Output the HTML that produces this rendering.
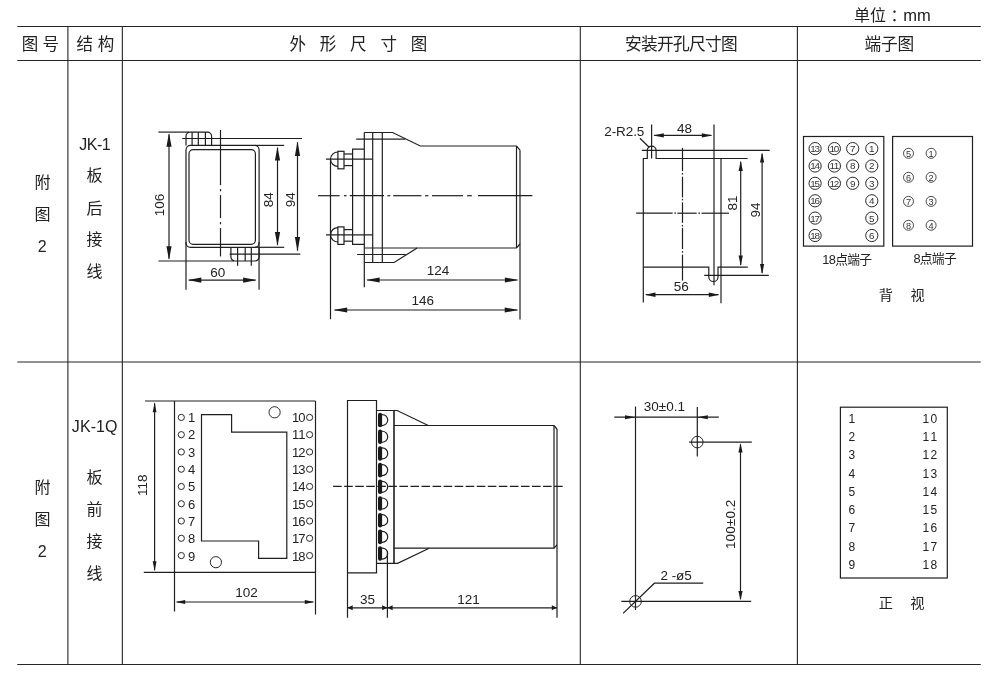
<!DOCTYPE html>
<html lang="zh-CN">
<head>
<meta charset="utf-8">
<title>JK-1 / JK-1Q 外形尺寸图</title>
<style>
html,body{margin:0;padding:0;background:#fff;}
body{width:995px;height:674px;overflow:hidden;}
svg{display:block;font-family:"Liberation Sans", "Noto Sans CJK SC", sans-serif;filter:grayscale(1);}
line,path,circle,rect,polyline{stroke:#1f1f1f;stroke-width:1.2;fill:none;}
.tb{stroke:#262626;stroke-width:1.1;}
.ah{fill:#1a1a1a;stroke:none;}
.fill{fill:#1a1a1a;stroke:none;}
text{fill:#222;stroke:none;}
.lt{fill:#333;}
.thin{stroke-width:.8;}
.sm{stroke-width:.95;}
</style>
</head>
<body>
<svg width="995" height="674" viewBox="0 0 995 674">
<rect x="0" y="0" width="995" height="674" style="fill:#fff;stroke:none"/>
<g id="grid">
<line x1="17.3" y1="26.5" x2="980.8" y2="26.5" class="tb"/>
<line x1="17.3" y1="60.5" x2="980.8" y2="60.5" class="tb"/>
<line x1="17.3" y1="362.05" x2="980.8" y2="362.05" class="tb"/>
<line x1="17.3" y1="664.5" x2="980.8" y2="664.5" class="tb"/>
<line x1="67.9" y1="26.5" x2="67.9" y2="664.5" class="tb"/>
<line x1="122.35" y1="26.5" x2="122.35" y2="664.5" class="tb"/>
<line x1="580.3" y1="26.5" x2="580.3" y2="664.5" class="tb"/>
<line x1="797.4" y1="26.5" x2="797.4" y2="664.5" class="tb"/>
</g>
<g id="header">
<text x="854" y="20.6" font-size="16">单位<tspan x="890.6">：</tspan><tspan x="903.2" font-size="16.5">mm</tspan></text>
<text x="21.7" y="50.2" font-size="16.5">图</text>
<text x="42.5" y="50.2" font-size="16.5">号</text>
<text x="76.6" y="50.2" font-size="16.5">结</text>
<text x="97.7" y="50.2" font-size="16.5">构</text>
<text x="289.5" y="50.2" font-size="16.5">外</text>
<text x="319.8" y="50.2" font-size="16.5">形</text>
<text x="350.1" y="50.2" font-size="16.5">尺</text>
<text x="380.4" y="50.2" font-size="16.5">寸</text>
<text x="410.7" y="50.2" font-size="16.5">图</text>
<text x="625.1" y="50.3" font-size="16.7" textLength="112.6" lengthAdjust="spacing">安装开孔尺寸图</text>
<text x="864.5" y="50.3" font-size="16.7" textLength="49.8" lengthAdjust="spacing">端子图</text>
</g>
<g id="labels">
<text x="42.4" y="187.6" font-size="16" text-anchor="middle">附</text>
<text x="42.4" y="220.1" font-size="16" text-anchor="middle">图</text>
<text x="42.2" y="251.6" font-size="16" text-anchor="middle">2</text>
<text x="95" y="150.1" font-size="16" text-anchor="middle" textLength="31.5" lengthAdjust="spacing">JK-1</text>
<text x="94.6" y="181.3" font-size="16" text-anchor="middle">板</text>
<text x="94.6" y="213.5" font-size="16" text-anchor="middle">后</text>
<text x="94.6" y="245.3" font-size="16" text-anchor="middle">接</text>
<text x="94.6" y="277" font-size="16" text-anchor="middle">线</text>
<text x="42.4" y="492.5" font-size="16" text-anchor="middle">附</text>
<text x="42.4" y="524.9" font-size="16" text-anchor="middle">图</text>
<text x="42.2" y="556.5" font-size="16" text-anchor="middle">2</text>
<text x="94.7" y="432.4" font-size="16" text-anchor="middle" textLength="45.7" lengthAdjust="spacing">JK-1Q</text>
<text x="94.6" y="483" font-size="16" text-anchor="middle">板</text>
<text x="94.6" y="514.8" font-size="16" text-anchor="middle">前</text>
<text x="94.6" y="547.2" font-size="16" text-anchor="middle">接</text>
<text x="94.6" y="579.2" font-size="16" text-anchor="middle">线</text>
</g>
<g id="r1-front">
<path d="M186 145.4V136.2A4.1 4.1 0 0 1 190.1 132.1H207.5A4.1 4.1 0 0 1 211.6 136.2V145.4"/>
<line x1="192.1" y1="132.1" x2="192.1" y2="145.4"/>
<line x1="198.3" y1="132.1" x2="198.3" y2="145.4"/>
<line x1="205.4" y1="132.1" x2="205.4" y2="145.4"/>
<path d="M230.9 247.3V256.9A4.1 4.1 0 0 0 235 261H255A4.1 4.1 0 0 0 259.1 256.9V247.3"/>
<line x1="237.6" y1="247.3" x2="237.6" y2="265.8"/>
<line x1="245.2" y1="247.3" x2="245.2" y2="261"/>
<line x1="251.3" y1="247.3" x2="251.3" y2="265.8"/>
<rect x="186" y="145.4" width="73.1" height="101.9" rx="4.5" ry="4.5"/>
<rect x="189" y="149.6" width="66.4" height="94.8" rx="4.2" ry="4.2"/>
<line x1="220.5" y1="130" x2="220.5" y2="185.1"/>
<line x1="220.5" y1="189.1" x2="220.5" y2="191.3"/>
<line x1="220.5" y1="195.1" x2="220.5" y2="218.1"/>
<line x1="220.5" y1="222.1" x2="220.5" y2="224.3"/>
<line x1="220.5" y1="228.1" x2="220.5" y2="256.4"/>
<line x1="158.4" y1="132.1" x2="189" y2="132.1"/>
<line x1="158.4" y1="261" x2="234" y2="261"/>
<line x1="182.2" y1="138.5" x2="302" y2="138.5"/>
<line x1="229.6" y1="254.1" x2="300.3" y2="254.1"/>
<line x1="255" y1="145.4" x2="284.2" y2="145.4"/>
<line x1="255" y1="247.3" x2="284.2" y2="247.3"/>
<line x1="186" y1="242" x2="186" y2="289.8"/>
<line x1="259.05" y1="242" x2="259.05" y2="289.8"/>
<line x1="169" y1="134.2" x2="169" y2="258.8"/>
<polygon class="ah" points="169,133.2 166.4,146.7 171.6,146.7"/>
<polygon class="ah" points="169,259.8 166.4,246.3 171.6,246.3"/>
<line x1="277.5" y1="147.7" x2="277.5" y2="244.9"/>
<polygon class="ah" points="277.5,146.7 274.9,160.5 280.1,160.5"/>
<polygon class="ah" points="277.5,245.9 274.9,232.1 280.1,232.1"/>
<line x1="297.5" y1="142.3" x2="297.5" y2="250.7"/>
<polygon class="ah" points="297.5,141.3 294.9,156.1 300.1,156.1"/>
<polygon class="ah" points="297.5,251.7 294.9,236.9 300.1,236.9"/>
<line x1="188.8" y1="280.1" x2="255.6" y2="280.1"/>
<polygon class="ah" points="187.8,280.1 201.3,277.4 201.3,282.8"/>
<polygon class="ah" points="256.6,280.1 243.1,277.4 243.1,282.8"/>
<text x="163.5" y="205" font-size="13.5" text-anchor="middle" transform="rotate(-90 163.5 205)">106</text>
<text x="272.7" y="199.7" font-size="13.5" text-anchor="middle" transform="rotate(-90 272.7 199.7)">84</text>
<text x="294.9" y="199.7" font-size="13.5" text-anchor="middle" transform="rotate(-90 294.9 199.7)">94</text>
<text x="217.8" y="277" font-size="13.5" text-anchor="middle">60</text>
</g>
<g id="r1-side">
<path d="M364.2 132.5H392.6L420.3 146H516.5L520 150.2"/>
<path d="M364.5 248H516.5L520 244"/>
<path d="M417.1 248L394.1 262.5H364.4"/>
<line x1="516.5" y1="146" x2="516.5" y2="248"/>
<line x1="520" y1="150.2" x2="520" y2="319.5"/>
<line x1="364.3" y1="132.5" x2="364.3" y2="287.2"/>
<line x1="372.7" y1="132.5" x2="372.7" y2="262.5"/>
<line x1="382.3" y1="132.5" x2="382.3" y2="262.5"/>
<line x1="356.2" y1="139.1" x2="405.3" y2="139.1"/>
<line x1="357.1" y1="254.5" x2="405.8" y2="254.5"/>
<path d="M364.3 149.1H352.6V244.4H364.3"/>
<path d="M337.9 152 A7.4 7.2 0 0 0 337.9 166.4"/>
<rect x="337.9" y="151.3" width="6.1" height="17.5"/>
<line x1="344" y1="154" x2="352.6" y2="154"/>
<line x1="344" y1="165.6" x2="352.6" y2="165.6"/>
<line x1="326" y1="159.2" x2="372.7" y2="159.2"/>
<path d="M337.9 227.6 A7.4 7.2 0 0 0 337.9 242"/>
<rect x="337.9" y="226.9" width="6.1" height="17.5"/>
<line x1="344" y1="229.6" x2="352.6" y2="229.6"/>
<line x1="344" y1="241.2" x2="352.6" y2="241.2"/>
<line x1="326" y1="234.8" x2="372.7" y2="234.8"/>
<line x1="330.5" y1="159.2" x2="330.5" y2="319.2"/>
<line x1="318.1" y1="195.7" x2="339.6" y2="195.7"/>
<line x1="344" y1="195.7" x2="346.5" y2="195.7"/>
<line x1="349.8" y1="195.7" x2="384" y2="195.7"/>
<line x1="387.4" y1="195.7" x2="390.2" y2="195.7"/>
<line x1="393.2" y1="195.7" x2="421.4" y2="195.7"/>
<line x1="425.1" y1="195.7" x2="428.4" y2="195.7"/>
<line x1="432" y1="195.7" x2="463" y2="195.7"/>
<line x1="467.2" y1="195.7" x2="471.8" y2="195.7"/>
<line x1="478" y1="195.7" x2="532.4" y2="195.7"/>
<line x1="367.1" y1="280" x2="517.4" y2="280"/>
<polygon class="ah" points="366.1,280 379.6,277.4 379.6,282.6"/>
<polygon class="ah" points="518.4,280 504.9,277.4 504.9,282.6"/>
<line x1="334.5" y1="310" x2="517.4" y2="310"/>
<polygon class="ah" points="333.5,310 347.2,307.4 347.2,312.6"/>
<polygon class="ah" points="518.4,310 504.7,307.4 504.7,312.6"/>
<text x="438" y="274.9" font-size="13.5" text-anchor="middle">124</text>
<text x="422.8" y="304.8" font-size="13.5" text-anchor="middle">146</text>
</g>
<g id="r1-cut">
<path d="M643.3 302.4V158.5H647.3V150.5A4.4 4.4 0 0 1 656.1 150.5V158.5H747.6"/>
<path d="M643.3 267.1H708.8V276.9A4.6 4.6 0 0 0 718 276.9V267.1H747.8"/>
<line x1="721" y1="158.5" x2="721" y2="303.3"/>
<line x1="651.6" y1="124.5" x2="651.6" y2="158.5"/>
<line x1="714" y1="124.5" x2="714" y2="285.2"/>
<line x1="641.8" y1="150.3" x2="769.7" y2="150.3"/>
<line x1="704.2" y1="275.3" x2="768.8" y2="275.3"/>
<line x1="636.2" y1="213.2" x2="672.7" y2="213.2"/>
<line x1="674.4" y1="213.2" x2="676" y2="213.2"/>
<line x1="677.4" y1="213.2" x2="696.7" y2="213.2"/>
<line x1="698.4" y1="213.2" x2="700" y2="213.2"/>
<line x1="701.6" y1="213.2" x2="729" y2="213.2"/>
<line x1="682.5" y1="147.8" x2="682.5" y2="171.1"/>
<line x1="682.5" y1="173" x2="682.5" y2="174.6"/>
<line x1="682.5" y1="176.7" x2="682.5" y2="197.4"/>
<line x1="682.5" y1="198.8" x2="682.5" y2="200.4"/>
<line x1="682.5" y1="202.3" x2="682.5" y2="222.8"/>
<line x1="682.5" y1="224.9" x2="682.5" y2="226.5"/>
<line x1="682.5" y1="227.9" x2="682.5" y2="249"/>
<line x1="682.5" y1="251.1" x2="682.5" y2="252.7"/>
<line x1="682.5" y1="254.6" x2="682.5" y2="280.6"/>
<line x1="639.9" y1="138.3" x2="649.4" y2="147.5"/>
<line x1="654.2" y1="135.4" x2="711.4" y2="135.4"/>
<polygon class="ah" points="653.2,135.4 663.8,133.2 663.8,137.6"/>
<polygon class="ah" points="712.4,135.4 701.8,133.2 701.8,137.6"/>
<line x1="645.9" y1="294.7" x2="718.4" y2="294.7"/>
<polygon class="ah" points="644.9,294.7 655.5,292.5 655.5,296.9"/>
<polygon class="ah" points="719.4,294.7 708.8,292.5 708.8,296.9"/>
<line x1="740.7" y1="161.7" x2="740.7" y2="264.9"/>
<polygon class="ah" points="740.7,160.7 738.6,171 742.8,171"/>
<polygon class="ah" points="740.7,265.9 738.6,255.6 742.8,255.6"/>
<line x1="762.1" y1="153.7" x2="762.1" y2="272.9"/>
<polygon class="ah" points="762.1,152.7 760,162.5 764.2,162.5"/>
<polygon class="ah" points="762.1,273.9 760,264.1 764.2,264.1"/>
<text x="604.3" y="135.6" font-size="13.5" textLength="40" lengthAdjust="spacing">2-R2.5</text>
<text x="684.4" y="132.6" font-size="13.5" text-anchor="middle">48</text>
<text x="681.2" y="290.5" font-size="13.5" text-anchor="middle">56</text>
<text x="737.3" y="203" font-size="13.5" text-anchor="middle" transform="rotate(-90 737.3 203)">81</text>
<text x="759.6" y="210" font-size="13.5" text-anchor="middle" transform="rotate(-90 759.6 210)">94</text>
</g>
<g id="r1-term">
<rect x="803.5" y="136.5" width="80.3" height="109.6"/>
<rect x="892.6" y="136.5" width="79.9" height="109.6"/>
<circle cx="815.1" cy="148.6" r="6.1" class="sm"/>
<text x="815.1" y="152" font-size="9.9" text-anchor="middle" textLength="9.6" lengthAdjust="spacing" class="lt">13</text>
<circle cx="815.1" cy="166" r="6.1" class="sm"/>
<text x="815.1" y="169.4" font-size="9.9" text-anchor="middle" textLength="9.6" lengthAdjust="spacing" class="lt">14</text>
<circle cx="815.1" cy="183.3" r="6.1" class="sm"/>
<text x="815.1" y="186.7" font-size="9.9" text-anchor="middle" textLength="9.6" lengthAdjust="spacing" class="lt">15</text>
<circle cx="815.1" cy="200.8" r="6.1" class="sm"/>
<text x="815.1" y="204.2" font-size="9.9" text-anchor="middle" textLength="9.6" lengthAdjust="spacing" class="lt">16</text>
<circle cx="815.1" cy="218.1" r="6.1" class="sm"/>
<text x="815.1" y="221.5" font-size="9.9" text-anchor="middle" textLength="9.6" lengthAdjust="spacing" class="lt">17</text>
<circle cx="815.1" cy="235.5" r="6.1" class="sm"/>
<text x="815.1" y="238.9" font-size="9.9" text-anchor="middle" textLength="9.6" lengthAdjust="spacing" class="lt">18</text>
<circle cx="834.4" cy="148.6" r="6.1" class="sm"/>
<text x="834.4" y="152" font-size="9.9" text-anchor="middle" textLength="9.6" lengthAdjust="spacing" class="lt">10</text>
<circle cx="834.4" cy="166" r="6.1" class="sm"/>
<text x="834.4" y="169.4" font-size="9.9" text-anchor="middle" textLength="9.6" lengthAdjust="spacing" class="lt">11</text>
<circle cx="834.4" cy="183.3" r="6.1" class="sm"/>
<text x="834.4" y="186.7" font-size="9.9" text-anchor="middle" textLength="9.6" lengthAdjust="spacing" class="lt">12</text>
<circle cx="852.7" cy="148.6" r="6.1" class="sm"/>
<text x="852.7" y="152" font-size="9.9" text-anchor="middle" class="lt">7</text>
<circle cx="852.7" cy="166" r="6.1" class="sm"/>
<text x="852.7" y="169.4" font-size="9.9" text-anchor="middle" class="lt">8</text>
<circle cx="852.7" cy="183.3" r="6.1" class="sm"/>
<text x="852.7" y="186.7" font-size="9.9" text-anchor="middle" class="lt">9</text>
<circle cx="871.8" cy="148.6" r="6.1" class="sm"/>
<text x="871.8" y="152" font-size="9.9" text-anchor="middle" class="lt">1</text>
<circle cx="871.8" cy="166" r="6.1" class="sm"/>
<text x="871.8" y="169.4" font-size="9.9" text-anchor="middle" class="lt">2</text>
<circle cx="871.8" cy="183.3" r="6.1" class="sm"/>
<text x="871.8" y="186.7" font-size="9.9" text-anchor="middle" class="lt">3</text>
<circle cx="871.8" cy="200.8" r="6.1" class="sm"/>
<text x="871.8" y="204.2" font-size="9.9" text-anchor="middle" class="lt">4</text>
<circle cx="871.8" cy="218.1" r="6.1" class="sm"/>
<text x="871.8" y="221.5" font-size="9.9" text-anchor="middle" class="lt">5</text>
<circle cx="871.8" cy="235.5" r="6.1" class="sm"/>
<text x="871.8" y="238.9" font-size="9.9" text-anchor="middle" class="lt">6</text>
<circle cx="908.5" cy="153.3" r="5" class="thin"/>
<text x="908.5" y="156.6" font-size="9.2" text-anchor="middle" class="lt">5</text>
<circle cx="931.1" cy="153.3" r="5" class="thin"/>
<text x="931.1" y="156.6" font-size="9.2" text-anchor="middle" class="lt">1</text>
<circle cx="908.5" cy="177.3" r="5" class="thin"/>
<text x="908.5" y="180.6" font-size="9.2" text-anchor="middle" class="lt">6</text>
<circle cx="931.1" cy="177.3" r="5" class="thin"/>
<text x="931.1" y="180.6" font-size="9.2" text-anchor="middle" class="lt">2</text>
<circle cx="908.5" cy="201.4" r="5" class="thin"/>
<text x="908.5" y="204.7" font-size="9.2" text-anchor="middle" class="lt">7</text>
<circle cx="931.1" cy="201.4" r="5" class="thin"/>
<text x="931.1" y="204.7" font-size="9.2" text-anchor="middle" class="lt">3</text>
<circle cx="908.5" cy="225.3" r="5" class="thin"/>
<text x="908.5" y="228.6" font-size="9.2" text-anchor="middle" class="lt">8</text>
<circle cx="931.1" cy="225.3" r="5" class="thin"/>
<text x="931.1" y="228.6" font-size="9.2" text-anchor="middle" class="lt">4</text>
<text x="822.3" y="264.4" font-size="12.8" textLength="49.8" lengthAdjust="spacing">18点端子</text>
<text x="913.4" y="263.1" font-size="12.8" textLength="43.3" lengthAdjust="spacing">8点端子</text>
<text x="878.7" y="300" font-size="14.2">背</text>
<text x="910.4" y="300" font-size="14.2">视</text>
</g>
<g id="r2-front">
<line x1="145" y1="401" x2="315.5" y2="401"/>
<line x1="143.8" y1="572.4" x2="315.5" y2="572.4"/>
<line x1="174.5" y1="401" x2="174.5" y2="611.5"/>
<line x1="315.5" y1="401" x2="315.5" y2="614.5"/>
<path d="M201.5 414.6H231.6V432.1H286.8V558.3H258.6V541H201.5Z"/>
<circle cx="274.6" cy="412.3" r="5.6" class="sm"/>
<circle cx="215.9" cy="562.2" r="5.6" class="sm"/>
<circle cx="181.3" cy="417.4" r="3.1" class="sm"/>
<text x="187.9" y="421.8" font-size="13">1</text>
<circle cx="309.6" cy="417.4" r="3.1" class="sm"/>
<text x="305.6" y="421.8" font-size="13" text-anchor="end" textLength="13.6" lengthAdjust="spacing">10</text>
<circle cx="181.3" cy="434.67" r="3.1" class="sm"/>
<text x="187.9" y="439.16" font-size="13">2</text>
<circle cx="309.6" cy="434.67" r="3.1" class="sm"/>
<text x="305.6" y="439.16" font-size="13" text-anchor="end" textLength="13.6" lengthAdjust="spacing">11</text>
<circle cx="181.3" cy="451.94" r="3.1" class="sm"/>
<text x="187.9" y="456.52" font-size="13">3</text>
<circle cx="309.6" cy="451.94" r="3.1" class="sm"/>
<text x="305.6" y="456.52" font-size="13" text-anchor="end" textLength="13.6" lengthAdjust="spacing">12</text>
<circle cx="181.3" cy="469.21" r="3.1" class="sm"/>
<text x="187.9" y="473.88" font-size="13">4</text>
<circle cx="309.6" cy="469.21" r="3.1" class="sm"/>
<text x="305.6" y="473.88" font-size="13" text-anchor="end" textLength="13.6" lengthAdjust="spacing">13</text>
<circle cx="181.3" cy="486.48" r="3.1" class="sm"/>
<text x="187.9" y="491.24" font-size="13">5</text>
<circle cx="309.6" cy="486.48" r="3.1" class="sm"/>
<text x="305.6" y="491.24" font-size="13" text-anchor="end" textLength="13.6" lengthAdjust="spacing">14</text>
<circle cx="181.3" cy="503.75" r="3.1" class="sm"/>
<text x="187.9" y="508.6" font-size="13">6</text>
<circle cx="309.6" cy="503.75" r="3.1" class="sm"/>
<text x="305.6" y="508.6" font-size="13" text-anchor="end" textLength="13.6" lengthAdjust="spacing">15</text>
<circle cx="181.3" cy="521.02" r="3.1" class="sm"/>
<text x="187.9" y="525.96" font-size="13">7</text>
<circle cx="309.6" cy="521.02" r="3.1" class="sm"/>
<text x="305.6" y="525.96" font-size="13" text-anchor="end" textLength="13.6" lengthAdjust="spacing">16</text>
<circle cx="181.3" cy="538.29" r="3.1" class="sm"/>
<text x="187.9" y="543.32" font-size="13">8</text>
<circle cx="309.6" cy="538.29" r="3.1" class="sm"/>
<text x="305.6" y="543.32" font-size="13" text-anchor="end" textLength="13.6" lengthAdjust="spacing">17</text>
<circle cx="181.3" cy="555.56" r="3.1" class="sm"/>
<text x="187.9" y="560.68" font-size="13">9</text>
<circle cx="309.6" cy="555.56" r="3.1" class="sm"/>
<text x="305.6" y="560.68" font-size="13" text-anchor="end" textLength="13.6" lengthAdjust="spacing">18</text>
<line x1="154.6" y1="403.2" x2="154.6" y2="570.2"/>
<polygon class="ah" points="154.6,402.2 152.7,412.2 156.5,412.2"/>
<polygon class="ah" points="154.6,571.2 152.7,561.2 156.5,561.2"/>
<line x1="176.7" y1="602" x2="313.3" y2="602"/>
<polygon class="ah" points="175.7,602 185.2,600 185.2,604"/>
<polygon class="ah" points="314.3,602 304.8,600 304.8,604"/>
<text x="147" y="485.3" font-size="13.5" text-anchor="middle" transform="rotate(-90 147 485.3)">118</text>
<text x="246.4" y="596.8" font-size="13.5" text-anchor="middle">102</text>
</g>
<g id="r2-side">
<path d="M347.5 617.7V400.5H376.5V572.8H347.5"/>
<path d="M376.5 410.5H397.1L428.3 425.5"/>
<path d="M376.5 563.4H397.6L429.2 548.2"/>
<line x1="394" y1="410.5" x2="394" y2="563.4" style="stroke-width:1.6"/>
<path d="M394 425.5H554L557 429"/>
<path d="M394 548.2H554L557 544.8"/>
<line x1="554" y1="425.5" x2="554" y2="548.2"/>
<line x1="557" y1="429" x2="557" y2="617.8"/>
<line x1="387.4" y1="551" x2="387.4" y2="617.7"/>
<rect class="fill" x="378" y="412.75" width="4.1" height="14.6" rx="2" ry="2"/>
<path d="M381 414.55H382.3A5.4 5.5 0 0 1 382.3 425.55H381"/>
<rect class="fill" x="378" y="429.44" width="4.1" height="14.6" rx="2" ry="2"/>
<path d="M381 431.24H382.3A5.4 5.5 0 0 1 382.3 442.24H381"/>
<rect class="fill" x="378" y="446.13" width="4.1" height="14.6" rx="2" ry="2"/>
<path d="M381 447.93H382.3A5.4 5.5 0 0 1 382.3 458.93H381"/>
<rect class="fill" x="378" y="462.82" width="4.1" height="14.6" rx="2" ry="2"/>
<path d="M381 464.62H382.3A5.4 5.5 0 0 1 382.3 475.62H381"/>
<rect class="fill" x="378" y="479.51" width="4.1" height="14.6" rx="2" ry="2"/>
<path d="M381 481.31H382.3A5.4 5.5 0 0 1 382.3 492.31H381"/>
<rect class="fill" x="378" y="496.2" width="4.1" height="14.6" rx="2" ry="2"/>
<path d="M381 498H382.3A5.4 5.5 0 0 1 382.3 509H381"/>
<rect class="fill" x="378" y="512.89" width="4.1" height="14.6" rx="2" ry="2"/>
<path d="M381 514.69H382.3A5.4 5.5 0 0 1 382.3 525.69H381"/>
<rect class="fill" x="378" y="529.58" width="4.1" height="14.6" rx="2" ry="2"/>
<path d="M381 531.38H382.3A5.4 5.5 0 0 1 382.3 542.38H381"/>
<rect class="fill" x="378" y="546.27" width="4.1" height="14.6" rx="2" ry="2"/>
<path d="M381 548.07H382.3A5.4 5.5 0 0 1 382.3 559.07H381"/>
<line x1="333.1" y1="486.4" x2="563" y2="486.4" stroke-dasharray="8.6 2.45" style="stroke-width:1.1"/>
<line x1="347.5" y1="607.8" x2="557" y2="607.8"/>
<polygon class="ah" points="347.5,607.8 352.7,605.3 352.7,610.3"/>
<polygon class="ah" points="387.4,607.8 382.2,605.3 382.2,610.3"/>
<polygon class="ah" points="387.4,607.8 392.6,605.3 392.6,610.3"/>
<polygon class="ah" points="557,607.8 551.8,605.3 551.8,610.3"/>
<text x="367.4" y="603.6" font-size="13.5" text-anchor="middle">35</text>
<text x="468.4" y="603.8" font-size="13.5" text-anchor="middle">121</text>
</g>
<g id="r2-cut">
<line x1="635.5" y1="406.5" x2="635.5" y2="610"/>
<line x1="697.3" y1="407" x2="697.3" y2="456.4"/>
<line x1="614.3" y1="417.2" x2="718.8" y2="417.2"/>
<polygon class="ah" points="635.5,417.2 625,415.2 625,419.2"/>
<polygon class="ah" points="697.3,417.2 707.8,415.2 707.8,419.2"/>
<circle cx="697.3" cy="442.1" r="5.8" class="sm"/>
<circle cx="635.5" cy="601.4" r="5.8" class="sm"/>
<line x1="689.1" y1="442.1" x2="751.8" y2="442.1"/>
<line x1="621.3" y1="601.4" x2="751.2" y2="601.4"/>
<line x1="740.5" y1="444.3" x2="740.5" y2="599.2"/>
<polygon class="ah" points="740.5,443.3 738.4,452.6 742.6,452.6"/>
<polygon class="ah" points="740.5,600.2 738.4,590.9 742.6,590.9"/>
<path d="M623.1 613.4L654.4 583.2H703.2"/>
<text x="643.8" y="410.8" font-size="13.5" textLength="41.2" lengthAdjust="spacing">30±0.1</text>
<text x="660.5" y="580.3" font-size="13.5" textLength="31.3" lengthAdjust="spacing">2 -ø5</text>
<text x="735.2" y="524.3" font-size="13.5" text-anchor="middle" textLength="49.4" lengthAdjust="spacing" transform="rotate(-90 735.2 524.3)">100±0.2</text>
</g>
<g id="r2-term">
<rect x="840.4" y="407.2" width="106.9" height="170.8"/>
<text x="848.4" y="422.8" font-size="12">1</text>
<text x="922.6" y="422.8" font-size="12" textLength="14.6" lengthAdjust="spacing">10</text>
<text x="848.4" y="441.08" font-size="12">2</text>
<text x="922.6" y="441.08" font-size="12" textLength="14.6" lengthAdjust="spacing">11</text>
<text x="848.4" y="459.36" font-size="12">3</text>
<text x="922.6" y="459.36" font-size="12" textLength="14.6" lengthAdjust="spacing">12</text>
<text x="848.4" y="477.64" font-size="12">4</text>
<text x="922.6" y="477.64" font-size="12" textLength="14.6" lengthAdjust="spacing">13</text>
<text x="848.4" y="495.92" font-size="12">5</text>
<text x="922.6" y="495.92" font-size="12" textLength="14.6" lengthAdjust="spacing">14</text>
<text x="848.4" y="514.2" font-size="12">6</text>
<text x="922.6" y="514.2" font-size="12" textLength="14.6" lengthAdjust="spacing">15</text>
<text x="848.4" y="532.48" font-size="12">7</text>
<text x="922.6" y="532.48" font-size="12" textLength="14.6" lengthAdjust="spacing">16</text>
<text x="848.4" y="550.76" font-size="12">8</text>
<text x="922.6" y="550.76" font-size="12" textLength="14.6" lengthAdjust="spacing">17</text>
<text x="848.4" y="569.04" font-size="12">9</text>
<text x="922.6" y="569.04" font-size="12" textLength="14.6" lengthAdjust="spacing">18</text>
<text x="878.8" y="608.3" font-size="14.2">正</text>
<text x="910.2" y="608.3" font-size="14.2">视</text>
</g>
</svg>
</body>
</html>
